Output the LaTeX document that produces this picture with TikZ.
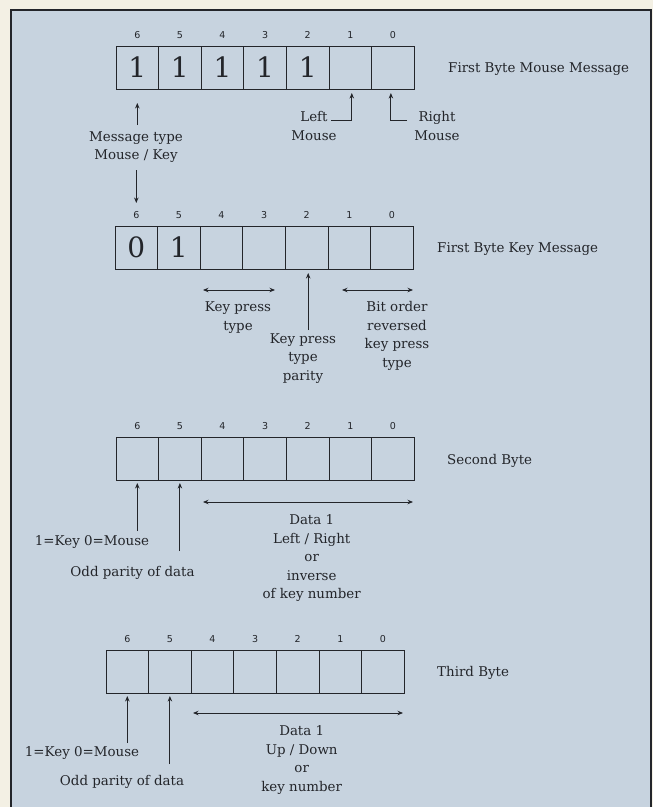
\documentclass[tikz,border=0pt]{standalone}
\usepackage{fontspec}
\setmainfont{DejaVu Serif}
\newfontfamily\bitfont{DejaVu Sans}
\usetikzlibrary{arrows.meta,calc}
\definecolor{bgblue}{RGB}{199,211,223}
\definecolor{cream}{RGB}{243,240,228}
\definecolor{ink}{RGB}{35,37,42}
\tikzset{
 cell/.style={draw=ink, line width=0.9pt, minimum width=42.6pt, minimum height=43pt, inner sep=0pt, outer sep=0pt},
 bitnum/.style={font=\bitfont\fontsize{9.5}{10}\selectfont, text=ink, inner sep=0pt, anchor=base},
 bigdigit/.style={font=\fontsize{28}{28}\selectfont, text=ink, inner sep=0pt},
 lbl/.style={font=\fontsize{13.4}{18.5}\selectfont, text=ink, align=center, inner sep=0pt},
 arr/.style={draw=ink, line width=0.85pt, -{Stealth[length=5.5pt,width=4.5pt]}},
 darr/.style={draw=ink, line width=0.85pt, {Stealth[length=5.5pt,width=4.5pt]}-{Stealth[length=5.5pt,width=4.5pt]}},
}
\newcommand\bytebox[3]{%
 \foreach \i in {0,...,6}{%
   \pgfmathtruncatemacro\bit{6-\i}%
   \node[cell, anchor=north west] (#1-\bit) at ({#2+\i*42.6},{#3}) {};
   \node[bitnum] (#1-n\bit) at ($(#1-\bit.north)+(0,-8)$) {\bit};
 }}
\begin{document}
\begin{tikzpicture}[x=1pt,y=-1pt]
\useasboundingbox (0,0) rectangle (653,807);
\fill[cream] (0,0) rectangle (653,807);
\fill[bgblue] (11,10) rectangle (651,807);
\draw[ink, line width=1.3pt] (11,807) -- (11,10) -- (651,10) -- (651,807);

% ---- First byte mouse message
\bytebox{a}{116}{46}
\foreach \b in {6,5,4,3,2}{\node[bigdigit] (a-d\b) at (a-\b) {1};}
\node[lbl, anchor=west] (a-title) at (448,69) {First Byte Mouse Message};
\node[lbl] (mt) at (136,147) {Message type\\Mouse / Key};
\draw[arr] ($(a-6.south)+(0,36)$) -- ($(a-6.south)+(0,14)$);
\node[lbl] (lm) at (314,126) {Left\\Mouse};
\node[lbl] (rm) at (437,126) {Right\\Mouse};
\coordinate (lmc) at (331,120);
\coordinate (rmc) at (407,120);
\draw[arr] (lmc) -| ($(a-1.south)+(1.5,4)$);
\draw[arr] (rmc) -| ($(a-0.south)+(-2,4)$);

% ---- First byte key message
\bytebox{b}{115}{226}
\node[bigdigit] (b-d6) at (b-6) {0};
\node[bigdigit] (b-d5) at (b-5) {1};
\node[lbl, anchor=west] (b-title) at (437,249) {First Byte Key Message};
\draw[arr] ($(b-6.north)+(0,-56)$) -- ($(b-6.north)+(0,-23)$);
\coordinate (kp1) at (203,290);
\coordinate (kp2) at (275,290);
\draw[darr] (kp1) -- (kp2);
\node[lbl] (kpt) at (238,317.5) {Key press\\type};
\draw[arr] ($(b-2.south)+(1.5,61)$) -- ($(b-2.south)+(1.5,4)$);
\node[lbl] (kpp) at (303,358.5) {Key press\\type\\parity};
\coordinate (br1) at (342,290);
\coordinate (br2) at (413,290);
\draw[darr] (br1) -- (br2);
\node[lbl] (bor) at (397,336) {Bit order\\reversed\\key press\\type};

% ---- Second byte
\bytebox{c}{116}{437}
\node[lbl, anchor=west] (c-title) at (447,461) {Second Byte};
\draw[arr] ($(c-6.south)+(0,51)$) -- ($(c-6.south)+(0,3)$);
\draw[arr] ($(c-5.south)+(0,71)$) -- ($(c-5.south)+(0,3)$);
\node[lbl] (c-key) at (92,542) {1=Key 0=Mouse};
\node[lbl] (c-odd) at (132.5,573) {Odd parity of data};
\coordinate (cd1) at (203,502);
\coordinate (cd2) at (413,502);
\draw[darr] (cd1) -- (cd2);
\node[lbl] (c-data) at (311.7,558.3) {Data 1\\Left / Right\\or\\inverse\\of key number};

% ---- Third byte
\bytebox{d}{106}{650}
\node[lbl, anchor=west] (d-title) at (437,673) {Third Byte};
\draw[arr] ($(d-6.south)+(0,50)$) -- ($(d-6.south)+(0,3)$);
\draw[arr] ($(d-5.south)+(0,71)$) -- ($(d-5.south)+(0,3)$);
\node[lbl] (d-key) at (82,753) {1=Key 0=Mouse};
\node[lbl] (d-odd) at (122,782) {Odd parity of data};
\coordinate (dd1) at (193,713);
\coordinate (dd2) at (403,713);
\draw[darr] (dd1) -- (dd2);
\node[lbl] (d-data) at (301.7,760) {Data 1\\Up / Down\\or\\key number};
\end{tikzpicture}
\end{document}
